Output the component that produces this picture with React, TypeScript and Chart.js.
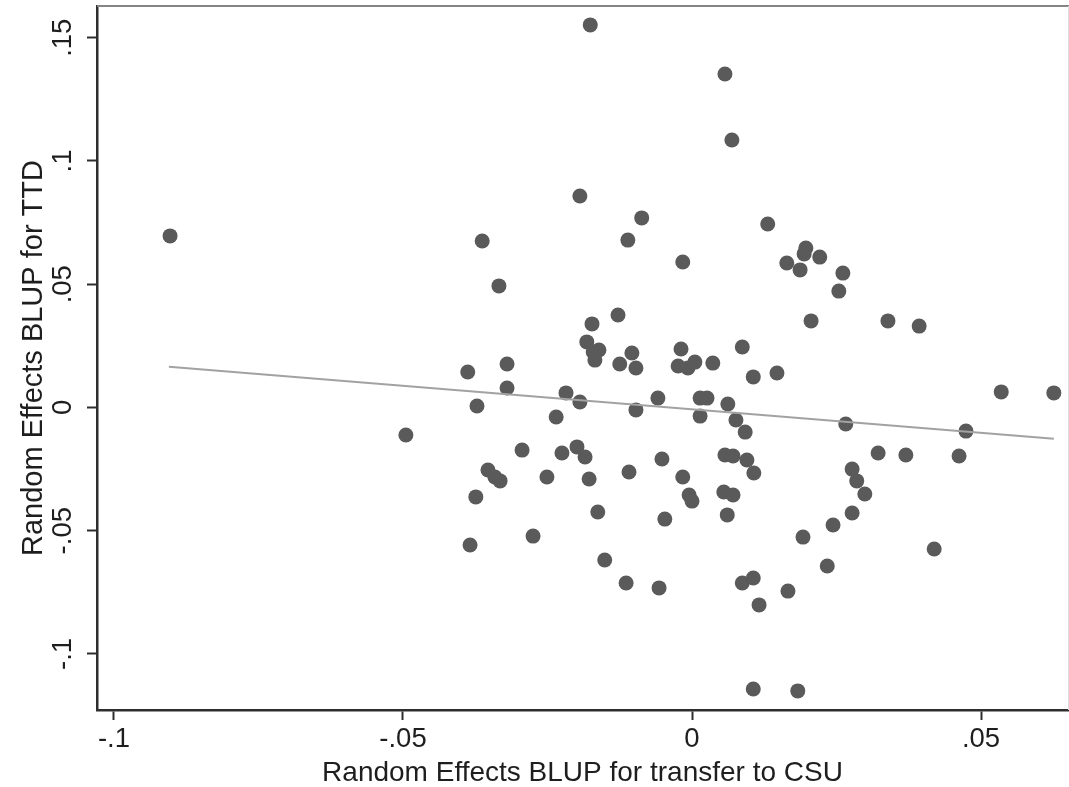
import React, { useEffect, useRef } from 'react';
import { Chart, registerables } from 'chart.js';

Chart.register(...registerables);

// BLUP for transfer to CSU (x) and BLUP for TTD (y), one pair per unit
const csuBlup = [
  -0.0903, -0.0176, 0.0057, 0.0069, -0.0194, -0.0087, -0.0363, -0.0111, -0.0016, 0.0131,
  0.0197, 0.0194, 0.0221, 0.0164, 0.0187, 0.0261, 0.0254, -0.0334, 0.0206, 0.0339,
  0.0393, -0.0128, -0.0173, -0.0182, -0.0161, -0.0168, -0.0171, -0.0104, -0.0125, -0.0097,
  -0.0019, -0.0024, -0.0007, 0.0005, 0.0036, 0.0087, 0.0106, 0.0147, -0.0388, -0.0320,
  -0.0320, -0.0372, -0.0218, -0.0194, -0.0235, -0.0097, -0.0059, 0.0014, 0.0026, 0.0014,
  0.0062, 0.0076, 0.0092, 0.0266, 0.0474, 0.0535, 0.0626, -0.0495, -0.0294, -0.0225,
  -0.0199, -0.0185, -0.0052, 0.0057, 0.0071, 0.0095, 0.0107, 0.0322, 0.0370, 0.0462,
  0.0277, 0.0285, 0.0299, 0.0277, 0.0244, 0.0192, 0.0234, 0.0419, -0.0353, -0.0341,
  -0.0332, -0.0251, -0.0178, -0.0109, -0.0016, -0.0005, 0.0000, 0.0055, 0.0071, 0.0061,
  -0.0374, -0.0163, -0.0047, -0.0275, -0.0384, -0.0151, -0.0114, -0.0057, 0.0087, 0.0106,
  0.0166, 0.0116, 0.0106, 0.0183,
];

const ttdBlup = [
  0.0696, 0.1552, 0.1353, 0.1085, 0.0858, 0.0769, 0.0675, 0.0679, 0.0590, 0.0744,
  0.0647, 0.0623, 0.0610, 0.0586, 0.0558, 0.0545, 0.0472, 0.0493, 0.0351, 0.0351,
  0.0330, 0.0375, 0.0339, 0.0266, 0.0233, 0.0192, 0.0225, 0.0221, 0.0176, 0.0160,
  0.0237, 0.0168, 0.0160, 0.0184, 0.0180, 0.0245, 0.0124, 0.0140, 0.0144, 0.0176,
  0.0079, 0.0006, 0.0059, 0.0022, -0.0039, -0.0010, 0.0038, 0.0038, 0.0038, -0.0035,
  0.0014, -0.0051, -0.0100, -0.0067, -0.0096, 0.0063, 0.0059, -0.0112, -0.0173, -0.0185,
  -0.0160, -0.0201, -0.0209, -0.0193, -0.0197, -0.0213, -0.0266, -0.0185, -0.0193, -0.0197,
  -0.0250, -0.0298, -0.0351, -0.0428, -0.0477, -0.0526, -0.0643, -0.0574, -0.0254, -0.0282,
  -0.0298, -0.0282, -0.0290, -0.0262, -0.0282, -0.0355, -0.0380, -0.0343, -0.0355, -0.0436,
  -0.0363, -0.0424, -0.0453, -0.0522, -0.0558, -0.0619, -0.0712, -0.0732, -0.0712, -0.0692,
  -0.0745, -0.0801, -0.1142, -0.1150,
];

// Fitted line end points
const fitX = [-0.0905, 0.0626];
const fitY = [0.0165, -0.0127];

const xTickValues = [-0.1, -0.05, 0, 0.05];
const xTickLabels = ['-.1', '-.05', '0', '.05'];
const yTickValues = [-0.1, -0.05, 0, 0.05, 0.1, 0.15];
const yTickLabels = ['-.1', '-.05', '0', '.05', '.1', '.15'];

const xTitle = 'Random Effects BLUP for transfer to CSU';
const yTitle = 'Random Effects BLUP for TTD';

const X_MIN = -0.10294;
const X_MAX = 0.06505;
const Y_MIN = -0.12274;
const Y_MAX = 0.16286;

const FONT = "'Liberation Sans', Arial, Helvetica, sans-serif";
const TEXT = '#1e1e1e';
const AXIS = '#2e2e2e';

function labelFor(values: number[], labels: string[], v: number): string {
  const i = values.findIndex((t) => Math.abs(t - v) < 1e-9);
  return i >= 0 ? labels[i] : '';
}

function noPadding(s: any) {
  s.paddingLeft = 0;
  s.paddingRight = 0;
  s.paddingTop = 0;
  s.paddingBottom = 0;
}

const framePlugin = {
  id: 'frame',
  afterDraw(chart: any) {
    const { ctx, chartArea: a } = chart;
    ctx.save();
    ctx.strokeStyle = '#858585';
    ctx.lineWidth = 2;
    ctx.beginPath();
    ctx.moveTo(a.left, a.top);
    ctx.lineTo(a.right + 2, a.top);
    ctx.stroke();
    ctx.strokeStyle = '#dcdcdc';
    ctx.lineWidth = 1;
    ctx.beginPath();
    ctx.moveTo(a.right + 0.5, a.top);
    ctx.lineTo(a.right + 0.5, a.bottom);
    ctx.stroke();
    ctx.restore();
  },
};

export default function App() {
  const ref = useRef<HTMLCanvasElement | null>(null);

  useEffect(() => {
    document.body.style.margin = '0';
    const canvas = ref.current;
    if (!canvas) return;

    const points = csuBlup.map((x, i) => ({ x, y: ttdBlup[i] }));
    const fit = fitX.map((x, i) => ({ x, y: fitY[i] }));

    const chart = new Chart(canvas, {
      type: 'scatter',
      data: {
        datasets: [
          {
            type: 'line',
            data: fit,
            borderColor: '#a2a2a2',
            borderWidth: 2,
            pointRadius: 0,
            fill: false,
            order: 0,
          } as any,
          {
            type: 'scatter',
            data: points,
            backgroundColor: '#5a5a5a',
            borderWidth: 0,
            pointRadius: 7.5,
            pointHoverRadius: 7.5,
            order: 1,
          } as any,
        ],
      },
      options: {
        responsive: false,
        animation: false,
        devicePixelRatio: 1,
        layout: { autoPadding: false, padding: { left: 0, right: 1, top: 6, bottom: 0 } },
        plugins: {
          legend: { display: false },
          tooltip: { enabled: false },
        },
        scales: {
          x: {
            type: 'linear',
            position: 'bottom',
            min: X_MIN,
            max: X_MAX,
            afterBuildTicks: (s: any) => {
              s.ticks = xTickValues.map((v) => ({ value: v }));
            },
            afterFit: (s: any) => {
              s.height = 77;
              noPadding(s);
            },
            ticks: {
              autoSkip: false,
              maxRotation: 0,
              minRotation: 0,
              padding: 6,
              color: TEXT,
              font: { family: FONT, size: 27.5, lineHeight: 1 },
              callback: (v: any) => labelFor(xTickValues, xTickLabels, Number(v)),
            },
            grid: {
              display: true,
              drawOnChartArea: false,
              drawTicks: true,
              tickLength: 10,
              tickColor: AXIS,
              tickWidth: 2,
            },
            border: { display: true, color: AXIS, width: 2.5 },
            title: {
              display: true,
              text: xTitle,
              color: TEXT,
              font: { family: FONT, size: 28, lineHeight: 1 },
              padding: { top: 0, bottom: 0 },
            },
          },
          y: {
            type: 'linear',
            position: 'left',
            min: Y_MIN,
            max: Y_MAX,
            afterBuildTicks: (s: any) => {
              s.ticks = yTickValues.map((v) => ({ value: v }));
            },
            afterFit: (s: any) => {
              s.width = 97;
              noPadding(s);
            },
            ticks: {
              autoSkip: false,
              minRotation: 90,
              maxRotation: 90,
              crossAlign: 'center',
              padding: 0,
              color: TEXT,
              font: { family: FONT, size: 27.5, lineHeight: 1 },
              callback: (v: any) => labelFor(yTickValues, yTickLabels, Number(v)),
            },
            grid: {
              display: true,
              drawOnChartArea: false,
              drawTicks: true,
              tickLength: 10,
              tickColor: AXIS,
              tickWidth: 2,
            },
            border: { display: true, color: AXIS, width: 2.5 },
            title: {
              display: true,
              text: yTitle,
              color: TEXT,
              font: { family: FONT, size: 29, lineHeight: 1 },
              padding: { top: 19, bottom: 0 },
            },
          },
        },
      } as any,
      plugins: [framePlugin],
    });

    return () => {
      chart.destroy();
    };
  }, []);

  return (
    <div style={{ width: 1069, height: 787, background: '#fff' }}>
      <canvas ref={ref} width={1069} height={787} style={{ display: 'block' }} />
    </div>
  );
}
